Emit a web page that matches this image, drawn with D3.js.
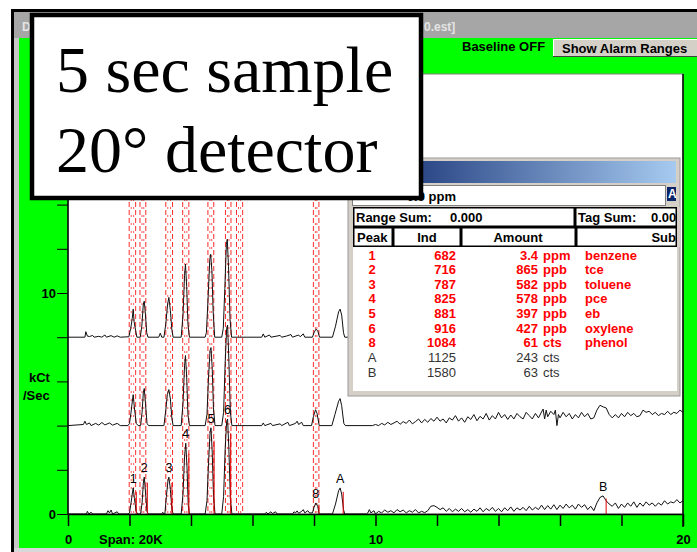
<!DOCTYPE html>
<html>
<head>
<meta charset="utf-8">
<script src="https://cdn.jsdelivr.net/npm/d3@7"></script>
<style>
  html, body { margin: 0; padding: 0; background: #fff; }
  svg { display: block; font-family: "Liberation Sans", Arial, sans-serif; }
</style>
</head>
<body>
<svg id="chart" width="697" height="552"></svg>
<script>
'use strict';

// --- chart data (kCt/sec vs retention, 3 stacked runs) ---
const TRACE_OFFSETS = [0, 4, 8];

const TRACE_BOTTOM = [
  [0, 0], [0.6, 0], [0.63, 0.12], [0.68, 0], [0.75, 0.08], [0.8, 0], [1.25, 0], [1.3, 0.15],
  [1.35, 0.05], [1.4, 0.18], [1.45, 0], [1.6, 0.1], [1.65, 0], [1.95, 0],
  [2.0, 0.05], [2.05, 0.5], [2.1, 1.0], [2.12, 1.18], [2.16, 0.7], [2.22, 0.1], [2.27, 0],
  [2.36, 0], [2.41, 0.5], [2.45, 1.4], [2.48, 1.67], [2.52, 1.0], [2.57, 0.1], [2.62, 0],
  [3.05, 0], [3.08, 0.08], [3.12, 0],
  [3.15, 0], [3.2, 0.8], [3.25, 1.5], [3.28, 1.67], [3.33, 1.1], [3.38, 0.2], [3.42, 0],
  [3.68, 0], [3.74, 0.9], [3.79, 2.6], [3.83, 3.2], [3.87, 2.1], [3.91, 0.4], [3.95, 0],
  [4.46, 0], [4.52, 0.6], [4.57, 2.3], [4.62, 3.7], [4.65, 3.9], [4.69, 2.8], [4.73, 0.9], [4.78, 0],
  [5.0, 0], [5.06, 0.8], [5.11, 2.9], [5.16, 4.2], [5.19, 4.3], [5.23, 3.0], [5.28, 0.7], [5.33, 0],
  [6.4, 0], [6.45, 0.08], [6.5, 0], [6.6, 0.1], [6.65, 0.02], [6.75, 0.1], [6.8, 0], [7.3, 0],
  [7.35, 0.1], [7.4, 0.05], [7.45, 0.14], [7.5, 0.03], [7.6, 0.12], [7.65, 0.2], [7.7, 0.05],
  [7.8, 0.15], [7.85, 0.05],
  [7.95, 0.05], [8.0, 0.3], [8.06, 0.5], [8.12, 0.35], [8.17, 0],
  [8.6, 0], [8.7, 0.45], [8.8, 1.05], [8.85, 1.18], [8.9, 0.9], [8.96, 0.2], [9.0, 0],
  [9.7, 0], [9.75, 0.05], [9.8, 0.2], [9.85, 0.05], [9.95, 0.15], [10.0, 0], [10.1, 0.12],
  [10.2, 0.05], [10.3, 0.18], [10.4, 0.08], [10.5, 0.15], [10.6, 0.05], [10.7, 0.2], [10.8, 0.1],
  [10.9, 0.18], [11.0, 0.05], [11.1, 0.15], [11.2, 0.08], [11.3, 0.2], [11.4, 0.05], [11.5, 0.12],
  [11.6, 0.06], [11.7, 0.15], [11.8, 0.35], [11.9, 0.38], [12.0, 0.3], [12.1, 0.2], [12.2, 0.28],
  [12.3, 0.12], [12.4, 0.25], [12.5, 0.1], [12.6, 0.22], [12.7, 0.12], [12.8, 0.25], [12.9, 0.1],
  [13.0, 0.2], [13.1, 0.08], [13.2, 0.22], [13.3, 0.12], [13.4, 0.28], [13.5, 0.1], [13.6, 0.25],
  [13.7, 0.15], [13.8, 0.3], [13.9, 0.12], [14.0, 0.25], [14.1, 0.1], [14.2, 0.28], [14.3, 0.15],
  [14.4, 0.32], [14.5, 0.12], [14.6, 0.28], [14.7, 0.18], [14.8, 0.3], [14.9, 0.15], [15.0, 0.35],
  [15.1, 0.18], [15.2, 0.3], [15.3, 0.2], [15.4, 0.4], [15.5, 0.2], [15.6, 0.38], [15.7, 0.22],
  [15.8, 0.42], [15.9, 0.2], [16.0, 0.4], [16.1, 0.25], [16.2, 0.45], [16.3, 0.28], [16.4, 0.4],
  [16.5, 0.22], [16.6, 0.45], [16.7, 0.3], [16.8, 0.42], [16.9, 0.2], [17.0, 0.35], [17.1, 0.15],
  [17.2, 0.5], [17.3, 0.75], [17.4, 0.82], [17.5, 0.6], [17.6, 0.45], [17.7, 0.35], [17.8, 0.5],
  [17.9, 0.25], [18.0, 0.45], [18.1, 0.3], [18.2, 0.5], [18.3, 0.35], [18.4, 0.55], [18.5, 0.3],
  [18.6, 0.5], [18.7, 0.35], [18.8, 0.55], [18.9, 0.4], [19.0, 0.5], [19.1, 0.35], [19.2, 0.5],
  [19.3, 0.4], [19.4, 0.6], [19.5, 0.45], [19.6, 0.55], [19.7, 0.5], [19.8, 0.65], [19.9, 0.5],
  [20.0, 0.6]
];

const TRACE_MIDDLE = [
  [0, 0], [0.5, 0.05], [0.55, 0.2], [0.6, 0.05], [0.7, 0.12], [0.75, 0], [0.9, 0.1], [1.0, 0.02],
  [1.1, 0.14], [1.2, 0.03], [1.35, 0.12], [1.45, 0.02], [1.6, 0.1], [1.7, 0], [1.95, 0],
  [2.0, 0.1], [2.05, 0.6], [2.1, 1.2], [2.12, 1.4], [2.16, 0.8], [2.22, 0.1], [2.28, 0],
  [2.36, 0], [2.41, 0.6], [2.45, 1.5], [2.48, 1.68], [2.52, 1.0], [2.57, 0.1], [2.62, 0],
  [3.12, 0], [3.18, 0.7], [3.23, 1.4], [3.28, 1.63], [3.33, 1.2], [3.38, 0.3], [3.42, 0],
  [3.68, 0], [3.74, 1.0], [3.79, 2.7], [3.82, 3.17], [3.86, 2.2], [3.9, 0.5], [3.95, 0],
  [4.46, 0], [4.52, 0.5], [4.57, 2.2], [4.62, 3.4], [4.65, 3.53], [4.69, 2.6], [4.73, 0.8], [4.78, 0],
  [5.0, 0], [5.06, 0.6], [5.11, 2.8], [5.16, 4.4], [5.19, 4.55], [5.23, 3.0], [5.28, 0.6], [5.33, 0],
  [6.3, 0], [6.35, 0.12], [6.4, 0], [6.6, 0.1], [6.65, 0], [6.9, 0.08], [6.95, 0], [7.15, 0.15],
  [7.2, 0], [7.4, 0.1], [7.45, 0.2], [7.5, 0.05], [7.6, 0.15], [7.65, 0],
  [7.92, 0], [7.98, 0.4], [8.05, 0.72], [8.1, 0.55], [8.17, 0],
  [8.58, 0], [8.68, 0.5], [8.8, 1.1], [8.85, 1.22], [8.9, 0.9], [8.97, 0.1], [9.02, 0],
  [9.9, 0], [10.0, 0.05], [10.1, 0], [10.2, 0.1], [10.3, 0.03], [10.4, 0.15], [10.5, 0.05],
  [10.6, 0.12], [10.7, 0.2], [10.8, 0.06], [10.9, 0.18], [11.0, 0.1], [11.1, 0.25], [11.2, 0.08],
  [11.3, 0.18], [11.4, 0.3], [11.5, 0.12], [11.6, 0.28], [11.7, 0.15], [11.8, 0.32], [11.9, 0.2],
  [12.0, 0.38], [12.1, 0.2], [12.2, 0.3], [12.3, 0.12], [12.4, 0.35], [12.5, 0.25], [12.6, 0.45],
  [12.7, 0.2], [12.8, 0.35], [12.9, 0.15], [13.0, 0.4], [13.1, 0.28], [13.2, 0.5], [13.3, 0.22],
  [13.4, 0.42], [13.5, 0.3], [13.6, 0.55], [13.7, 0.25], [13.8, 0.45], [13.9, 0.3], [14.0, 0.6],
  [14.1, 0.35], [14.2, 0.5], [14.3, 0.28], [14.4, 0.48], [14.5, 0.3], [14.6, 0.55], [14.7, 0.4],
  [14.8, 0.3], [14.9, 0.6], [15.0, 0.45], [15.1, 0.3], [15.2, 0.55], [15.3, 0.35], [15.45, 0.75],
  [15.5, 0.3], [15.55, 0.7], [15.6, 0.4], [15.7, 0.65], [15.8, 0.5], [15.85, 0.7], [15.9, 0.0],
  [15.95, 0.5], [16.0, 0.35], [16.1, 0.6], [16.2, 0.4], [16.3, 0.55], [16.4, 0.3], [16.5, 0.5],
  [16.6, 0.35], [16.7, 0.6], [16.8, 0.4], [16.9, 0.55], [17.0, 0.3], [17.1, 0.35], [17.2, 0.7],
  [17.3, 0.92], [17.4, 0.85], [17.5, 0.8], [17.6, 0.5], [17.7, 0.35], [17.8, 0.5], [17.9, 0.35],
  [18.0, 0.55], [18.1, 0.4], [18.2, 0.6], [18.3, 0.45], [18.4, 0.55], [18.5, 0.4], [18.6, 0.45],
  [18.7, 0.7], [18.8, 0.6], [18.9, 0.65], [19.0, 0.5], [19.1, 0.6], [19.2, 0.45], [19.3, 0.55],
  [19.4, 0.5], [19.5, 0.65], [19.6, 0.5], [19.7, 0.6], [19.8, 0.55], [19.9, 0.7], [20.0, 0.6]
];

const TRACE_TOP = [
  [0, 0], [0.55, 0], [0.58, 0.25], [0.63, 0.05], [0.7, 0.03], [0.8, 0.08], [0.85, 0], [1.0, 0.04],
  [1.1, 0], [1.2, 0.1], [1.25, 0], [1.4, 0.07], [1.5, 0], [1.6, 0.06], [1.7, 0], [1.98, 0.02],
  [2.04, 0.4], [2.09, 0.85], [2.12, 1.27], [2.15, 0.7], [2.2, 0.3], [2.24, 0],
  [2.35, 0], [2.4, 0.5], [2.45, 1.5], [2.48, 1.63], [2.52, 1.0], [2.56, 0.2], [2.6, 0],
  [2.95, 0], [3.0, 0.18], [3.05, 0],
  [3.12, 0], [3.18, 0.6], [3.24, 1.5], [3.28, 1.8], [3.33, 1.2], [3.38, 0.3], [3.42, 0],
  [3.68, 0], [3.74, 1.0], [3.79, 2.8], [3.82, 3.3], [3.86, 2.3], [3.9, 0.6], [3.95, 0],
  [4.46, 0], [4.5, 0.2], [4.55, 1.6], [4.61, 3.5], [4.64, 3.75], [4.68, 3.0], [4.72, 1.2], [4.77, 0],
  [5.0, 0], [5.05, 0.4], [5.1, 2.2], [5.15, 4.2], [5.18, 4.43], [5.22, 3.2], [5.27, 0.8], [5.32, 0],
  [6.3, 0], [6.35, 0.15], [6.4, 0], [6.55, 0.1], [6.6, 0], [6.9, 0.08], [6.95, 0], [7.1, 0.05],
  [7.25, 0.12], [7.3, 0], [7.5, 0.1], [7.55, 0.02], [7.65, 0.15], [7.7, 0],
  [7.95, 0], [8.0, 0.2], [8.06, 0.36], [8.12, 0.3], [8.18, 0],
  [8.6, 0], [8.7, 0.5], [8.8, 1.15], [8.85, 1.27], [8.9, 1.0], [8.96, 0.2], [9.0, 0], [9.3, 0]
];

const PEAK_LABELS = ['1', '2', '3', '4', '5', '6', '8', 'A', 'B'];
const PEAK_X = [2.12, 2.48, 3.28, 3.83, 4.65, 5.19, 8.06, 8.85, 17.4];
const PEAK_H = [1.18, 1.67, 1.67, 3.2, 3.9, 4.3, 0.5, 1.18, 0.82];

const ALARM_RANGES = [
  [1.99, 2.2], [2.34, 2.53], [3.18, 3.4], [3.73, 3.93],
  [4.55, 4.74], [5.12, 5.3], [5.48, 5.68], [7.98, 8.16]
];

const X_TICKS = [0, 2, 4, 6, 8, 10, 12, 14, 16, 18, 20];
const X_TICK_LABELS = [0, 10, 20];
const Y_TICKS = [0, 2, 4, 6, 8, 10, 12, 14, 16, 18];
const Y_TICK_LABELS = [0, 10];

// results table
const TABLE_PEAK = ['1', '2', '3', '4', '5', '6', '8', 'A', 'B'];
const TABLE_IND = ['682', '716', '787', '825', '881', '916', '1084', '1125', '1580'];
const TABLE_AMOUNT = ['3.4', '865', '582', '578', '397', '427', '61', '243', '63'];
const TABLE_UNIT = ['ppm', 'ppb', 'ppb', 'ppb', 'ppb', 'ppb', 'cts', 'cts', 'cts'];
const TABLE_SUB = ['benzene', 'tce', 'toluene', 'pce', 'eb', 'oxylene', 'phenol', '', ''];
const TABLE_ALARM = [true, true, true, true, true, true, true, false, false];

const GREEN = '#00ff00';
const PANEL = '#d4d0c8';

document.addEventListener('DOMContentLoaded', drawChart, false);

function drawChart() {
  let svg = d3.select('#chart');

  // window frame
  svg.append('rect').attr('x', 11).attr('y', 9).attr('width', 686).attr('height', 543).attr('fill', '#000');
  svg.append('rect').attr('x', 14).attr('y', 12).attr('width', 683).attr('height', 540).attr('fill', '#c8c8c8');
  svg.append('rect').attr('x', 14).attr('y', 12).attr('width', 683).attr('height', 26).attr('fill', '#a6a6a6');
  svg.append('rect').attr('x', 19).attr('y', 38).attr('width', 678).attr('height', 510).attr('fill', GREEN);
  svg.append('text').attr('x', 22).attr('y', 27).attr('dominant-baseline', 'central')
    .attr('font-size', 12).attr('font-weight', 'bold').attr('fill', '#e4e4e4').text('D');
  svg.append('text').attr('x', 424).attr('y', 27).attr('dominant-baseline', 'central')
    .attr('font-size', 12).attr('font-weight', 'bold').attr('fill', '#e4e4e4').text('0.est]');

  // toolbar
  svg.append('text').attr('x', 462).attr('y', 46).attr('dominant-baseline', 'central')
    .attr('font-size', 13).attr('font-weight', 'bold').text('Baseline OFF');
  let btn = svg.append('g');
  btn.append('rect').attr('x', 553).attr('y', 39).attr('width', 146).attr('height', 18).attr('fill', PANEL);
  btn.append('path').attr('d', 'M553.5,57V39.5H699').attr('fill', 'none').attr('stroke', '#fff');
  btn.append('path').attr('d', 'M553,56.5H699').attr('fill', 'none').attr('stroke', '#404040');
  btn.append('text').attr('x', 562).attr('y', 48.5).attr('dominant-baseline', 'central')
    .attr('font-size', 13).attr('font-weight', 'bold').text('Show Alarm Ranges');

  // plot area
  let x = d3.scaleLinear().domain([0, 20]).range([68, 683]);
  let y = d3.scaleLinear().domain([0, 20]).range([514, 72]);

  svg.append('rect').attr('x', 68).attr('y', 74).attr('width', 615).attr('height', 440)
    .attr('fill', '#fff').attr('stroke', '#808080');

  svg.append('clipPath').attr('id', 'plotclip').append('rect')
    .attr('x', 68).attr('y', 74).attr('width', 615).attr('height', 440);
  let plot = svg.append('g').attr('clip-path', 'url(#plotclip)');

  // alarm ranges (red dashed boundaries)
  let bounds = ALARM_RANGES.flatMap((r) => [{ v: r[0], s: 1 }, { v: r[1], s: -1 }]);
  let alarm = plot.append('g').attr('stroke', '#ff2a2a').attr('fill', 'none');
  alarm.selectAll('line.a').data(bounds).enter().append('line')
    .attr('x1', (d) => x(d.v)).attr('x2', (d) => x(d.v))
    .attr('y1', 74).attr('y2', 514)
    .attr('stroke-dasharray', '5,3');
  alarm.selectAll('line.b').data(bounds).enter().append('line')
    .attr('x1', (d) => x(d.v) + d.s * 2).attr('x2', (d) => x(d.v) + d.s * 2)
    .attr('y1', 74).attr('y2', 514)
    .attr('stroke-opacity', 0.8)
    .attr('stroke-dasharray', '2,6').attr('stroke-dashoffset', 3);

  // traces
  let traces = [TRACE_BOTTOM, TRACE_MIDDLE, TRACE_TOP];
  traces.forEach((data, i) => {
    let line = d3.line()
      .x((d) => x(d[0]))
      .y((d) => y(d[1] + TRACE_OFFSETS[i]));
    plot.append('path').datum(data)
      .attr('fill', 'none').attr('stroke', '#111').attr('stroke-width', 1)
      .attr('d', line);
  });

  // integration markers on the bottom run
  plot.append('g').selectAll('line').data(PEAK_X).enter().append('line')
    .attr('x1', (d) => x(d + 0.1)).attr('x2', (d) => x(d + 0.1))
    .attr('y1', y(0)).attr('y2', (d, i) => y(PEAK_H[i] * 0.85))
    .attr('stroke', '#e00000').attr('stroke-width', 1);

  // peak labels
  plot.append('g').selectAll('text').data(PEAK_LABELS).enter().append('text')
    .attr('x', (d, i) => x(PEAK_X[i]))
    .attr('y', (d, i) => y(PEAK_H[i]) - 9)
    .attr('text-anchor', 'middle').attr('dominant-baseline', 'central')
    .attr('font-size', 12.5).attr('fill', '#000')
    .text((d) => d);

  // axes
  let xAxis = svg.append('g').attr('transform', 'translate(0,514)')
    .call(d3.axisBottom(x).tickValues(X_TICKS).tickSize(12).tickSizeOuter(0).tickPadding(9)
      .tickFormat((d) => (X_TICK_LABELS.includes(d) ? d : '')));
  xAxis.select('.domain').attr('stroke', '#000').attr('stroke-width', 1.5);
  xAxis.selectAll('.tick line').attr('stroke', '#000').attr('stroke-width', 1.5);
  xAxis.selectAll('.tick text').attr('font-size', 13).attr('font-weight', 'bold').attr('fill', '#000')
    .attr('font-family', '"Liberation Sans", Arial, sans-serif');

  let yAxis = svg.append('g').attr('transform', 'translate(68,0)')
    .call(d3.axisLeft(y).tickValues(Y_TICKS).tickSize(11).tickSizeOuter(0).tickPadding(1)
      .tickFormat((d) => (Y_TICK_LABELS.includes(d) ? d : '')));
  yAxis.select('.domain').attr('d', 'M0,74V514').attr('stroke', '#000').attr('stroke-width', 1.5);
  yAxis.selectAll('.tick line').attr('stroke', '#000');
  yAxis.selectAll('.tick text').attr('font-size', 13).attr('font-weight', 'bold').attr('fill', '#000')
    .attr('font-family', '"Liberation Sans", Arial, sans-serif');

  svg.append('line').attr('x1', 683).attr('x2', 683).attr('y1', 74).attr('y2', 527)
    .attr('stroke', '#000').attr('stroke-width', 1.5);

  svg.append('text').attr('x', 99).attr('y', 539).attr('dominant-baseline', 'central')
    .attr('font-size', 13).attr('font-weight', 'bold').text('Span: 20K');
  svg.append('text').attr('x', 29).attr('y', 377).attr('dominant-baseline', 'central')
    .attr('font-size', 13).attr('font-weight', 'bold').text('kCt');
  svg.append('text').attr('x', 23).attr('y', 395).attr('dominant-baseline', 'central')
    .attr('font-size', 13).attr('font-weight', 'bold').text('/Sec');

  svg.append('rect').attr('x', 14).attr('y', 548).attr('width', 683).attr('height', 4).attr('fill', '#d8d8d8');

  drawDialog(svg);
  drawCaption(svg);
}

function drawDialog(svg) {
  let g = svg.append('g');
  g.append('rect').attr('x', 348).attr('y', 158).attr('width', 332).attr('height', 238)
    .attr('fill', PANEL).attr('stroke', '#9a9a9a');

  let grad = svg.append('defs').append('linearGradient').attr('id', 'titlegrad')
    .attr('gradientUnits', 'userSpaceOnUse').attr('x1', 352).attr('x2', 676).attr('y1', 0).attr('y2', 0);
  grad.append('stop').attr('offset', 0).attr('stop-color', '#0a246a');
  grad.append('stop').attr('offset', 1).attr('stop-color', '#a6caf0');
  g.append('rect').attr('x', 352).attr('y', 161).attr('width', 324).attr('height', 22).attr('fill', 'url(#titlegrad)');

  // combo box
  g.append('rect').attr('x', 352.5).attr('y', 185.5).attr('width', 313).attr('height', 20)
    .attr('fill', '#fff').attr('stroke', '#808080');
  g.append('text').attr('x', 456).attr('y', 196).attr('text-anchor', 'end').attr('dominant-baseline', 'central')
    .attr('font-size', 13).attr('font-weight', 'bold').text('0.9 ppm');
  g.append('rect').attr('x', 666).attr('y', 185).attr('width', 11).attr('height', 21).attr('fill', PANEL);
  g.append('rect').attr('x', 667).attr('y', 187).attr('width', 9).attr('height', 14).attr('fill', '#0a246a');
  g.append('text').attr('x', 668).attr('y', 194).attr('dominant-baseline', 'central')
    .attr('font-size', 12).attr('font-weight', 'bold').attr('fill', '#fff').text('A');

  // sums row
  g.append('rect').attr('x', 353).attr('y', 207).attr('width', 324).attr('height', 184).attr('fill', '#fff');
  let boxes = [[353, 207, 222, 20], [575, 207, 102, 20], [353, 227, 40, 20], [393, 227, 68, 20],
    [461, 227, 115, 20], [576, 227, 101, 20]];
  g.selectAll('rect.cell').data(boxes).enter().append('rect')
    .attr('x', (d) => d[0] + 0.75).attr('y', (d) => d[1] + 0.75)
    .attr('width', (d) => d[2] - 1.5).attr('height', (d) => d[3] - 1.5)
    .attr('fill', 'none').attr('stroke', '#000').attr('stroke-width', 1.5);

  let hdr = g.append('g').attr('font-size', 13).attr('font-weight', 'bold').attr('dominant-baseline', 'central');
  hdr.append('text').attr('x', 356).attr('y', 217).text('Range Sum:');
  hdr.append('text').attr('x', 450).attr('y', 217).text('0.000');
  hdr.append('text').attr('x', 578).attr('y', 217).text('Tag Sum:');
  hdr.append('text').attr('x', 651).attr('y', 217).text('0.00');
  hdr.append('text').attr('x', 357).attr('y', 237).text('Peak');
  hdr.append('text').attr('x', 427).attr('y', 237).attr('text-anchor', 'middle').text('Ind');
  hdr.append('text').attr('x', 518).attr('y', 237).attr('text-anchor', 'middle').text('Amount');
  hdr.append('text').attr('x', 676).attr('y', 237).attr('text-anchor', 'end').text('Sub');

  // cover the clipped text overflow on the right
  g.append('rect').attr('x', 677).attr('y', 207).attr('width', 3).attr('height', 40).attr('fill', PANEL);

  let rows = g.append('g').selectAll('g').data(TABLE_PEAK).enter().append('g')
    .attr('transform', (d, i) => 'translate(0,' + (255 + i * 14.65) + ')')
    .attr('font-size', 13)
    .attr('font-weight', (d, i) => (TABLE_ALARM[i] ? 'bold' : 'normal'))
    .attr('fill', (d, i) => (TABLE_ALARM[i] ? '#ff0000' : '#333'))
    .attr('dominant-baseline', 'central');
  rows.append('text').attr('x', 372).attr('text-anchor', 'middle').text((d) => d);
  rows.append('text').attr('x', 456).attr('text-anchor', 'end').text((d, i) => TABLE_IND[i]);
  rows.append('text').attr('x', 538).attr('text-anchor', 'end').text((d, i) => TABLE_AMOUNT[i]);
  rows.append('text').attr('x', 543).text((d, i) => TABLE_UNIT[i]);
  rows.append('text').attr('x', 585).text((d, i) => TABLE_SUB[i]);
}

function drawCaption(svg) {
  let g = svg.append('g');
  g.append('rect').attr('x', 32).attr('y', 15).attr('width', 389).attr('height', 183)
    .attr('fill', '#fff').attr('stroke', '#000').attr('stroke-width', 4.5);
  g.append('text').attr('x', 56).attr('y', 92)
    .attr('font-family', '"Liberation Serif", "Times New Roman", serif').attr('font-size', 66)
    .text('5 sec sample');
  g.append('text').attr('x', 56).attr('y', 172)
    .attr('font-family', '"Liberation Serif", "Times New Roman", serif').attr('font-size', 66)
    .text('20° detector');
}
</script>
</body>
</html>
